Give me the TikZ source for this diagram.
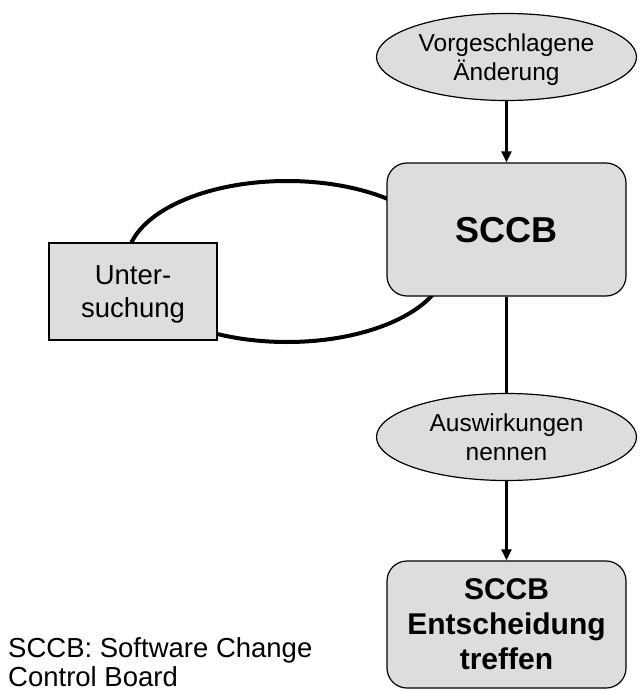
\documentclass[tikz,border=0pt]{standalone}
\usepackage{fontspec}
\setmainfont{Liberation Sans}
\usetikzlibrary{arrows.meta,shapes.geometric}
\definecolor{boxfill}{HTML}{DDDDDD}
\begin{document}
\begin{tikzpicture}[x=1pt,y=-1pt,
  bubble/.style={ellipse,draw,line width=1.2pt,fill=boxfill,minimum width=260pt,minimum height=87pt,inner sep=0pt,align=center,font=\fontsize{24.5}{28.5}\selectfont,text depth=0pt},
  board/.style={rectangle,rounded corners=20pt,draw,line width=1.2pt,fill=boxfill,minimum width=239pt,inner sep=0pt,align=center,text depth=0pt},
  task/.style={rectangle,draw,line width=1.2pt,fill=boxfill,minimum width=168pt,minimum height=97pt,inner sep=0pt,align=center,font=\fontsize{27.5}{33}\selectfont,text depth=0pt},
  flow/.style={line width=2.2pt,-{Triangle[width=10pt,length=11pt]}},
  link/.style={line width=2.2pt},
  loopline/.style={line width=4pt}]
\useasboundingbox (0,0) rectangle (640,690);
% loop behind the boxes
\draw[loopline] (287,261.5) ellipse [x radius=160, y radius=80.5];
\node[bubble] (vor) at (506.5,57) {Vorgeschlagene\\Änderung};
\node[board,minimum height=133pt,font=\fontsize{36}{40}\selectfont\bfseries] (sccb) at (506.5,229.5) {SCCB};
\node[task] (unt) at (133,291.5) {Unter-\\suchung};
\node[bubble] (ausw) at (506.5,437) {Auswirkungen\\nennen};
\node[board,minimum height=127pt,font=\fontsize{30}{35}\selectfont\bfseries] (dec) at (506.5,624.5) {SCCB\\Entscheidung\\treffen};
\node[anchor=north west,inner sep=0pt,align=left,font=\fontsize{27.5}{29}\selectfont] (note) at (8,637) {SCCB: Software Change\\Control Board};
\draw[flow] (vor.south) -- (sccb.north);
\draw[link] (sccb.south) -- (ausw.north);
\draw[flow] (ausw.south) -- (dec.north);
\end{tikzpicture}
\end{document}
